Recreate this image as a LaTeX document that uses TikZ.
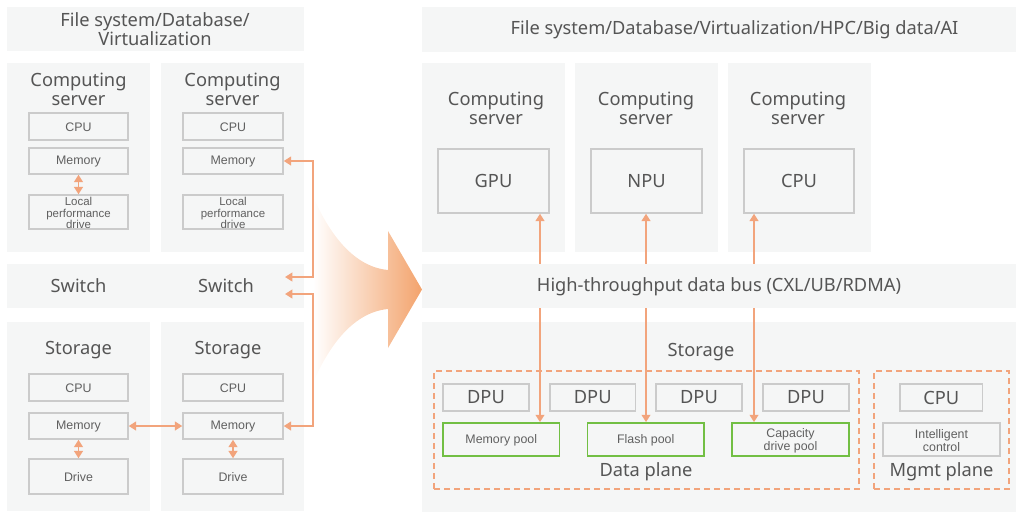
\documentclass[tikz,border=0pt]{standalone}
\usepackage{fontspec}
\setmainfont{Noto Sans}
\newfontfamily\labelfont{Liberation Sans}
\usetikzlibrary{fit,arrows.meta,calc}
\definecolor{panelfill}{HTML}{F5F6F6}
\definecolor{boxline}{HTML}{CBCBCB}
\definecolor{poolline}{HTML}{72BF44}
\definecolor{linkorange}{HTML}{F2A47C}
\definecolor{floworange}{HTML}{F3A36C}
\definecolor{txt}{HTML}{555555}
\definecolor{smalltxt}{HTML}{606060}
\begin{document}
\begin{tikzpicture}[x=0.75pt,y=-0.75pt,
  panel/.style={fill=panelfill,draw=none,inner sep=0pt},
  unit/.style={draw=boxline,line width=1.1pt,fill=panelfill,inner sep=0pt,
    label={[smalllbl]center:#1}},
  driveunit/.style={draw=boxline,line width=1.1pt,fill=panelfill,inner sep=0pt,
    label={[smalllbl,font=\labelfont\fontsize{8.6}{8.3}\selectfont]center:#1}},
  bigunit/.style={draw=boxline,line width=1.1pt,fill=panelfill,inner sep=0pt,
    label={[title]center:#1}},
  pool/.style={draw=poolline,line width=1.3pt,fill=panelfill,inner sep=0pt,
    label={[smalllbl]center:#1}},
  smalllbl/.style={font=\labelfont\fontsize{9.3}{8.6}\selectfont,text=smalltxt,
    align=center,inner sep=0pt,yshift=-0.7pt},
  plane/.style={draw=linkorange,line width=1.2pt,dash pattern=on 4.5pt off 3pt,inner sep=0pt},
  title/.style={font=\fontsize{13.7}{14.4}\selectfont,text=txt,align=center,inner sep=0pt},
  link/.style={draw=linkorange,line width=1.4pt,
    arrows={-Triangle[length=5.5pt,width=6.5pt]}},
  duplex/.style={link,arrows={Triangle[length=5.5pt,width=6.5pt]-Triangle[length=5.5pt,width=6.5pt]}}
]
\useasboundingbox (0,0) rectangle (1016,515);

% ---------- traditional architecture ----------
\node[panel,fit={(7,7) (304,51)}] (appL) {};
\node[title] (appLt) at (155,29.5) {File system/Database/\\Virtualization};

\node[panel,fit={(7,63) (150,252)}] (csA) {};
\node[title] (csAt) at (78.5,89) {Computing\\server};
\node[unit=CPU,fit={(29,113) (128,140)}] (csAcpu) {};
\node[unit=Memory,fit={(29,148) (128,174)}] (csAmem) {};
\node[driveunit={Local\\performance\\drive},fit={(29,195) (128,229)}] (csAdrv) {};

\node[panel,fit={(161,63) (304,252)}] (csB) {};
\node[title] (csBt) at (232.5,89) {Computing\\server};
\node[unit=CPU,fit={(183,113) (283,140)}] (csBcpu) {};
\node[unit=Memory,fit={(183,148) (283,174)}] (csBmem) {};
\node[driveunit={Local\\performance\\drive},fit={(183,195) (283,229)}] (csBdrv) {};

\node[panel,fit={(7,264) (304,308)}] (sw) {};
\node[title] (swA) at (78.5,286) {Switch};
\node[title] (swB) at (226,286) {Switch};

\node[panel,fit={(7,322) (150,511)}] (stA) {};
\node[title] (stAt) at (78.5,350) {Storage};
\node[unit=CPU,fit={(29,374) (128,401)}] (stAcpu) {};
\node[unit=Memory,fit={(29,413) (128,439)}] (stAmem) {};
\node[unit=Drive,fit={(29,459) (128,494)}] (stAdrv) {};

\node[panel,fit={(161,322) (304,511)}] (stB) {};
\node[title] (stBt) at (228,350) {Storage};
\node[unit=CPU,fit={(183,374) (283,401)}] (stBcpu) {};
\node[unit=Memory,fit={(183,413) (283,439)}] (stBmem) {};
\node[unit=Drive,fit={(183,459) (283,494)}] (stBdrv) {};

% links inside and between the boxes
\draw[duplex] (csAmem.south) -- (csAdrv.north);
\draw[duplex] (stAmem.south) -- (stAdrv.north);
\draw[duplex] (stBmem.south) -- (stBdrv.north);
\draw[duplex] (stAmem.east) -- (stBmem.west);

% network links through the switch
\coordinate (swIn1) at (285,277);
\coordinate (swIn2) at (285,294);
\coordinate (net1) at (313,277);
\coordinate (net2) at (313,294);

% ---------- evolution arrow ----------
\shade[left color=white,right color=floworange,draw=none]
  (313,196) .. controls (330,236) and (355,267) .. (388,270)
  -- (388,231) -- (422,289.5) -- (388,348) -- (388,309)
  .. controls (355,312) and (330,343) .. (313,383) -- cycle;

\draw[duplex] (csBmem.east) -| (net1) -- (swIn1);
\draw[duplex] (swIn2) -- (net2) |- (stBmem.east);

% ---------- data-centric architecture ----------
\node[panel,fit={(422,7) (1016,52)}] (appR) {};
\node[title] (appRt) at (734.5,30) {File system/Database/Virtualization/HPC/Big data/AI};

\node[panel,fit={(422,63) (565,252)}] (cs1) {};
\node[title] (cs1t) at (496,108) {Computing\\server};
\node[bigunit=GPU,fit={(438,149) (549,213)}] (gpu) {};

\node[panel,fit={(575,63) (718,252)}] (cs2) {};
\node[title] (cs2t) at (646,108) {Computing\\server};
\node[bigunit=NPU,fit={(591,149) (702,213)}] (npu) {};

\node[panel,fit={(728,63) (871,252)}] (cs3) {};
\node[title] (cs3t) at (798,108) {Computing\\server};
\node[bigunit=CPU,fit={(744,149) (854,213)}] (cpu) {};

\node[panel,fit={(422,264) (1016,308)}] (bus) {};
\node[title] (bust) at (719,287) {High-throughput data bus (CXL/UB/RDMA)};

\node[panel,fit={(422,322) (1016,512)}] (stor) {};
\node[title] (stort) at (701,352) {Storage};

\node[plane,fit={(434,371) (859,489)}] (dplane) {};
\node[title] (dplanet) at (646,472) {Data plane};
\node[plane,fit={(874,371) (1009,489)}] (mplane) {};
\node[title] (mplanet) at (941.5,472) {Mgmt plane};

\node[bigunit=DPU,fit={(443,384) (529,411)}] (dpu1) {};
\node[bigunit=DPU,fit={(550,384) (635.5,411)}] (dpu2) {};
\node[bigunit=DPU,fit={(656,384) (742,411)}] (dpu3) {};
\node[bigunit=DPU,fit={(763,384) (849,411)}] (dpu4) {};
\node[bigunit=CPU,fit={(900,384) (982.5,411)}] (mcpu) {};

\node[pool={Memory pool},fit={(443,423) (559.5,456)}] (mpool) {};
\node[pool={Flash pool},fit={(587.5,423) (704,456)}] (fpool) {};
\node[pool={Capacity\\drive pool},fit={(732,423) (849,456)}] (cpool) {};
\node[unit={Intelligent\\control},fit={(883,423) (1000,456)}] (ictl) {};

% bus links to processors and pools
\coordinate (lane1) at (540,0);
\coordinate (lane2) at (646,0);
\coordinate (lane3) at (754,0);
\draw[link] (bus.north -| lane1) -- (gpu.south -| lane1);
\draw[link] (bus.north -| lane2) -- (npu.south -| lane2);
\draw[link] (bus.north -| lane3) -- (cpu.south -| lane3);
\draw[link] (bus.south -| lane1) -- (mpool.north -| lane1);
\draw[link] (bus.south -| lane2) -- (fpool.north -| lane2);
\draw[link] (bus.south -| lane3) -- (cpool.north -| lane3);
\end{tikzpicture}
\end{document}
